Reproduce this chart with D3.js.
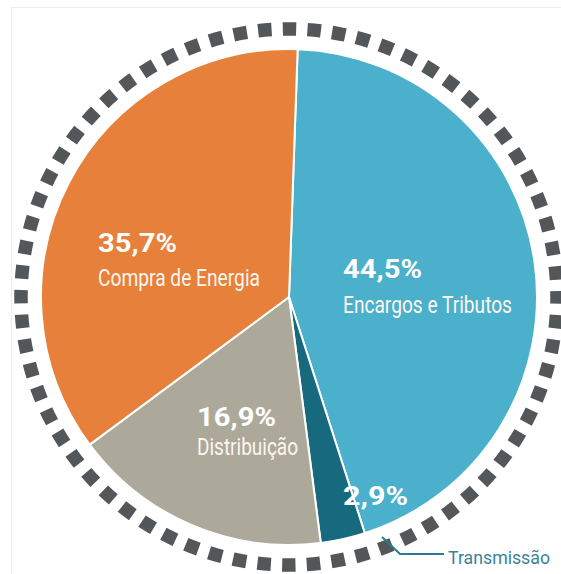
<!DOCTYPE html>
<html>
<head>
<meta charset="utf-8">
<script src="https://cdn.jsdelivr.net/npm/d3@7"></script>
<style>
  html, body { margin: 0; padding: 0; background: #fff; overflow: hidden; }
  svg { display: block; }
  text { font-family: Roboto, "Liberation Sans", sans-serif; }
</style>
</head>
<body>
<svg id="chart" width="561" height="574"></svg>
<script>
// Data (clockwise from the top)
const categories = ['Encargos e Tributos', 'Transmissão', 'Distribuição', 'Compra de Energia'];
const shares = [44.5, 2.9, 16.9, 35.7];
const sliceColors = ['#4ab0cb', '#176a7d', '#aca99a', '#e6803a'];

// Label placement (x, baselines, fitted text widths)
const labelLayout = [
  { x: 343, yPct: 278, yName: 313, wPct: 79, wName: 169 },
  { x: 343, yPct: 505, wPct: 65 },
  { x: 197, yPct: 426, yName: 455, wPct: 79, wName: 101 },
  { x: 98,  yPct: 252, yName: 286, wPct: 79, wName: 162 },
];

const cx = 289, cy = 297, R = 248;
const ringR = 268, ringCount = 68;
const startDeg = 2;

const svg = d3.select('#chart');

// faint frame
svg.append('rect')
  .attr('x', 11.5).attr('y', 7.5)
  .attr('width', 700).attr('height', 700)
  .attr('fill', 'none').attr('stroke', '#ececec').attr('stroke-width', 1);

const g = svg.append('g').attr('transform', `translate(${cx},${cy})`);

// dashed ring of squares
const circ = 2 * Math.PI * ringR;
const pitch = circ / ringCount;
const dash = 13.5;
g.append('circle')
  .attr('r', ringR)
  .attr('fill', 'none')
  .attr('stroke', '#53575a')
  .attr('stroke-width', 13.5)
  .attr('stroke-dasharray', `${dash} ${pitch - dash}`)
  .attr('stroke-dashoffset', dash / 2);

// pie
const a0 = startDeg * Math.PI / 180;
const pie = d3.pie().sort(null).value(d => d)
  .startAngle(a0)
  .endAngle(a0 + 2 * Math.PI);
const arc = d3.arc().innerRadius(0).outerRadius(R);

g.selectAll('path.slice')
  .data(pie(shares))
  .join('path')
  .attr('class', 'slice')
  .attr('d', arc)
  .attr('fill', (d, i) => sliceColors[i])
  .attr('stroke', '#fff')
  .attr('stroke-width', 2)
  .attr('stroke-linejoin', 'round');

// labels
const fmtPct = v => d3.format('.1f')(v).replace('.', ',') + '%';

labelLayout.forEach((L, i) => {
  svg.append('text')
    .attr('x', L.x).attr('y', L.yPct)
    .attr('fill', '#fff')
    .attr('font-size', 25)
    .attr('font-weight', 700)
    .attr('textLength', L.wPct)
    .attr('lengthAdjust', 'spacingAndGlyphs')
    .text(fmtPct(shares[i]));
  if (L.yName) {
    svg.append('text')
      .attr('x', L.x).attr('y', L.yName)
      .attr('fill', '#fdf6ee')
      .attr('font-size', 24)
      .attr('textLength', L.wName)
      .attr('lengthAdjust', 'spacingAndGlyphs')
      .text(categories[i]);
  }
});

// Transmissão call-out
svg.append('path')
  .attr('d', 'M382,537 L400,554 L444,554')
  .attr('fill', 'none')
  .attr('stroke', '#2b7a8e')
  .attr('stroke-width', 2);

svg.append('text')
  .attr('x', 448).attr('y', 564)
  .attr('fill', '#3a8397')
  .attr('font-size', 19)
  .attr('textLength', 102)
  .attr('lengthAdjust', 'spacingAndGlyphs')
  .text(categories[1]);
</script>
</body>
</html>
